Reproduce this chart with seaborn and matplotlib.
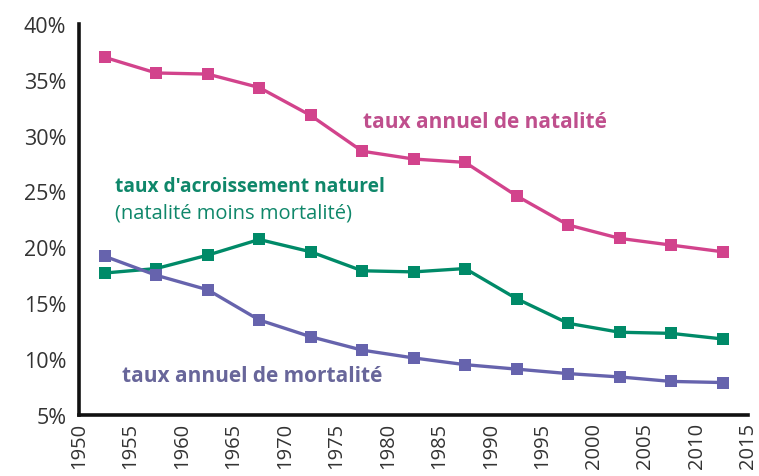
import pandas as pd
import matplotlib.pyplot as plt
import seaborn as sns

# periodes (milieu des intervalles quinquennaux)
annees = [1952.5, 1957.5, 1962.5, 1967.5, 1972.5, 1977.5, 1982.5,
          1987.5, 1992.5, 1997.5, 2002.5, 2007.5, 2012.5]
natalite = [37.0, 35.6, 35.5, 34.3, 31.8, 28.6, 27.9, 27.6, 24.6, 22.0, 20.8, 20.2, 19.6]
accroissement = [17.7, 18.1, 19.3, 20.7, 19.6, 17.9, 17.8, 18.1, 15.4, 13.2, 12.4, 12.3, 11.8]
mortalite = [19.2, 17.5, 16.2, 13.5, 12.0, 10.8, 10.1, 9.5, 9.1, 8.7, 8.4, 8.0, 7.9]

x_ticks = list(range(1950, 2016, 5))
y_ticks = list(range(5, 41, 5))

couleurs = {"natalite": "#d2438c", "accroissement": "#008a68", "mortalite": "#6663ad"}

df = pd.DataFrame({"annee": annees * 3,
                   "taux": natalite + accroissement + mortalite,
                   "serie": ["natalite"] * 13 + ["accroissement"] * 13 + ["mortalite"] * 13})

sns.set_style("white")
plt.rcParams["font.family"] = ["Open Sans", "DejaVu Sans"]

fig = plt.figure(figsize=(7.59, 4.77), dpi=100)
ax = fig.add_axes([0.104, 0.128, 0.882, 0.82])

sns.lineplot(data=df, x="annee", y="taux", hue="serie", palette=couleurs,
             marker="s", markersize=9, markeredgewidth=0, linewidth=2.4,
             legend=False, ax=ax)

ax.set_xlim(1950, 2015)
ax.set_ylim(5, 40)
ax.set_xticks(x_ticks)
ax.set_yticks(y_ticks)
ax.set_yticklabels([f"{v}%" for v in y_ticks])
ax.set_xlabel("")
ax.set_ylabel("")
ax.tick_params(axis="x", labelrotation=90, labelsize=14.5, direction="in",
               length=7, width=2.2, colors="#222222", labelcolor="#333333", pad=5)
ax.tick_params(axis="y", labelsize=15.5, direction="in", length=13,
               width=2.2, colors="#222222", labelcolor="#333333", pad=9)
sns.despine(ax=ax)
for s in ["left", "bottom"]:
    ax.spines[s].set_linewidth(2.6)
    ax.spines[s].set_color("#111111")

ax.text(1977.6, 31.3, "taux annuel de natalité", color="#bf4f8d",
        fontsize=15, fontweight="bold", va="center")
ax.text(1953.5, 25.5, "taux d'acroissement naturel", color="#0f876a",
        fontsize=13.8, fontweight="bold", va="center")
ax.text(1953.5, 23.1, "(natalité moins mortalité)", color="#0f876a",
        fontsize=14.5, va="center")
ax.text(1954.15, 8.5, "taux annuel de mortalité", color="#68669a",
        fontsize=15, fontweight="bold", va="center")

fig.savefig("out.png", dpi=100)
